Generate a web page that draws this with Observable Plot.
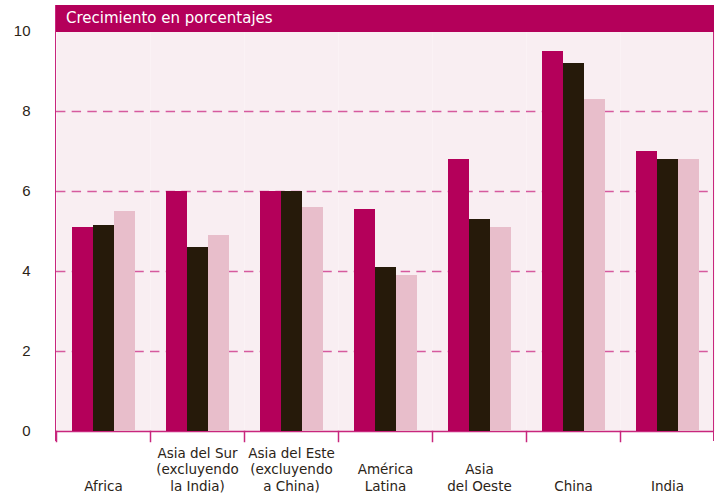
<!DOCTYPE html>
<html>
<head>
<meta charset="utf-8">
<script src="https://cdn.jsdelivr.net/npm/d3@7"></script>
<script src="https://cdn.jsdelivr.net/npm/@observablehq/plot@0.6"></script>
<style>
  body { margin: 0; background: #ffffff; }
  #wrap { position: relative; width: 715px; height: 493px; font-family: "DejaVu Sans", "Liberation Sans", Arial, sans-serif; }
  #wrap svg { display: block; }
  #box { position: absolute; left: 55px; top: 5px; width: 657px; height: 436px;
         border-left: 1.5px solid #c8267d; border-right: 1.5px solid #c8267d; pointer-events: none; }
  #head { position: absolute; left: 56px; top: 5px; width: 658px; height: 27px; box-sizing: border-box;
          background: #b4005a; color: #ffffff; font-size: 15px; line-height: 27px; padding-left: 10px; }
</style>
</head>
<body>
<div id="wrap"></div>
<script>
// ---- data ----
const regions = ["Africa", "Asia del Sur", "Asia del Este", "América Latina", "Asia del Oeste", "China", "India"];
const regionLabels = ["Africa", "Asia del Sur\n(excluyendo\nla India)", "Asia del Este\n(excluyendo\na China)", "América\nLatina", "Asia\ndel Oeste", "China", "India"];
const seriesNames = ["Serie 1", "Serie 2", "Serie 3"];
const serie1 = [5.1, 6.0, 6.0, 5.55, 6.8, 9.5, 7.0];
const serie2 = [5.15, 4.6, 6.0, 4.1, 5.3, 9.2, 6.8];
const serie3 = [5.5, 4.9, 5.6, 3.9, 5.1, 8.3, 6.8];
const yTicks = [0, 2, 4, 6, 8, 10];
const gridTicks = [2, 4, 6, 8];
const title = "Crecimiento en porcentajes";

// ---- styles ----
const seriesColors = ["#b4005a", "#261a0a", "#e8becb"];
const bg = "#f9eef2";
const accent = "#c8267d";
const gridColor = "#d65a9e";
const textColor = "#2b2417";

const allSeries = [serie1, serie2, serie3];
const rows = regions.flatMap((r, i) => seriesNames.map((s, j) => ({region: r, series: s, value: allSeries[j][i]})));

const chart = Plot.plot({
  width: 715,
  height: 493,
  marginTop: 31,
  marginBottom: 62,
  marginLeft: 56,
  marginRight: 1,
  style: {fontFamily: "'DejaVu Sans', 'Liberation Sans', Arial, sans-serif", background: "transparent", color: textColor},
  fx: {domain: regions, padding: 0, axis: null},
  x: {domain: seriesNames, paddingInner: 0, paddingOuter: 0.7, axis: null},
  y: {domain: [0, 10], axis: null},
  color: {domain: seriesNames, range: seriesColors},
  marks: [
    Plot.frame({fill: bg, stroke: "none"}),
    Plot.ruleY(gridTicks, {stroke: gridColor, strokeWidth: 1.5, strokeDasharray: "9.4,6.27"}),
    Plot.ruleY([0], {stroke: accent, strokeWidth: 1.5}),
    Plot.frame({anchor: "left", stroke: accent, strokeWidth: 1.5, insetTop: 400, insetBottom: -10}),
    Plot.barY(rows, {fx: "region", x: "series", y: "value", fill: "series"}),
    Plot.axisY(yTicks, {label: null, tickSize: 0, tickPadding: 26, fontSize: 15, color: textColor,
                        fontFamily: "'Liberation Sans', Arial, sans-serif"}),
    Plot.text(regions, {
      fx: d => d,
      text: (d, i) => regionLabels[i],
      frameAnchor: "bottom",
      lineAnchor: "bottom",
      dy: 59,
      fontSize: 13.5,
      lineHeight: 1.22,
      fill: textColor
    })
  ]
});

const wrap = document.getElementById("wrap");
wrap.appendChild(chart);
const box = document.createElement("div");
box.id = "box";
wrap.appendChild(box);
const head = document.createElement("div");
head.id = "head";
head.textContent = title;
wrap.appendChild(head);
</script>
</body>
</html>
